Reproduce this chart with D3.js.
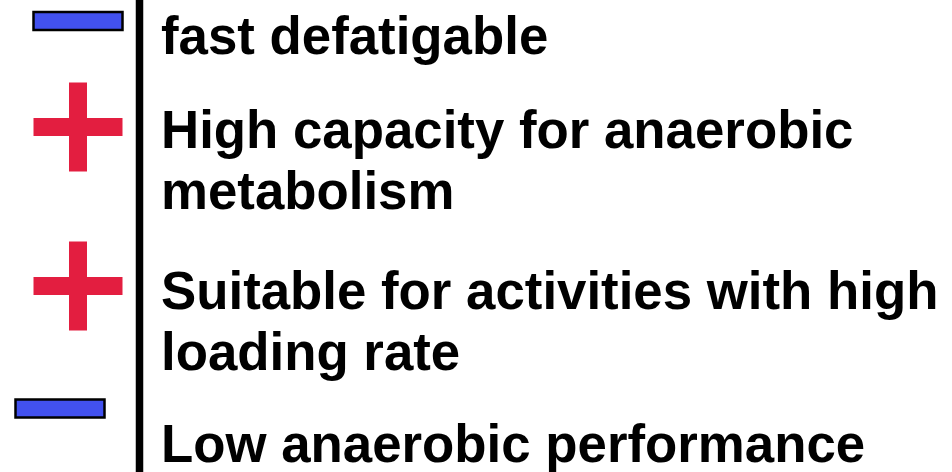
<!DOCTYPE html>
<html>
<head>
<meta charset="utf-8">
<script src="https://cdn.jsdelivr.net/npm/d3@7"></script>
<style>
	html, body { margin: 0; padding: 0; background: #fff; }
	svg { display: block; }
	.label { font-family: "Liberation Sans", Arial, sans-serif; font-weight: bold; font-size: 52.8px; fill: #000; }
</style>
</head>
<body>
<div id="chart"></div>
<script>
// one entry per trait: sign and the text lines
var signs = ["-", "+", "+", "-"];
var labels = [
	["fast defatigable"],
	["High capacity for anaerobic", "metabolism"],
	["Suitable for activities with high", "loading rate"],
	["Low anaerobic performance"]
];

var width = 952, height = 472;

// layout (pixels)
var baselines = [54, 148, 309, 462],   // first baseline of each block
	lineGap = 61,
	signY = [21, 127, 286, 408.5],
	signX = [78, 78, 78, 60],
	textX = 161,
	barX = 139.5;

var svg = d3.select("#chart").append("svg")
	.attr("width", width)
	.attr("height", height);

// the divider
svg.append("line")
	.attr("x1", barX).attr("x2", barX)
	.attr("y1", 0).attr("y2", height)
	.attr("stroke", "#000")
	.attr("stroke-width", 7.5);

var items = signs.map(function(s, i) {
	return { sign: s, lines: labels[i], i: i };
});

var g = svg.selectAll("g.item")
	.data(items)
	.enter().append("g")
	.attr("class", "item");

// minus: blue bar with black outline
g.filter(function(d) { return d.sign === "-"; })
	.append("rect")
	.attr("x", function(d) { return signX[d.i] - 44.5; })
	.attr("y", function(d) { return signY[d.i] - 9; })
	.attr("width", 89)
	.attr("height", 18)
	.attr("fill", "#4251EF")
	.attr("stroke", "#000")
	.attr("stroke-width", 2.5);

// plus: red cross
var plus = g.filter(function(d) { return d.sign === "+"; });
plus.append("rect")
	.attr("x", function(d) { return signX[d.i] - 44.5; })
	.attr("y", function(d) { return signY[d.i] - 9; })
	.attr("width", 89)
	.attr("height", 18)
	.attr("fill", "#E31E40");
plus.append("rect")
	.attr("x", function(d) { return signX[d.i] - 9; })
	.attr("y", function(d) { return signY[d.i] - 44.5; })
	.attr("width", 18)
	.attr("height", 89)
	.attr("fill", "#E31E40");

// text lines
g.append("text")
	.attr("class", "label")
	.selectAll("tspan")
	.data(function(d) { return d.lines.map(function(t, k) { return { t: t, k: k, i: d.i }; }); })
	.enter().append("tspan")
	.attr("x", textX)
	.attr("y", function(d) { return baselines[d.i] + d.k * lineGap; })
	.text(function(d) { return d.t; });
</script>
</body>
</html>
